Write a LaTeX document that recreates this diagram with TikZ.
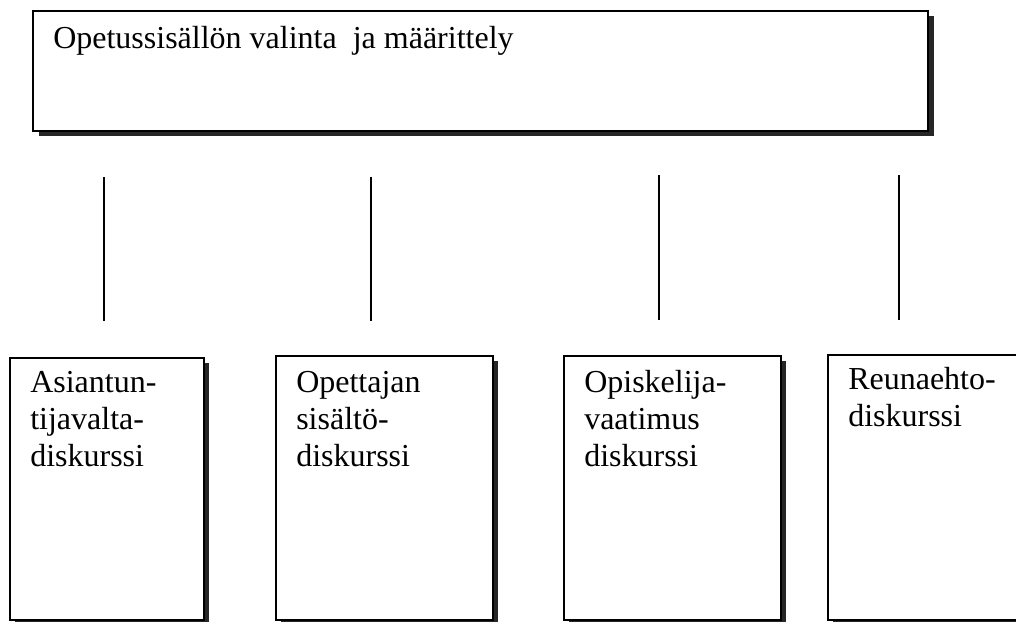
\documentclass[tikz,border=0pt]{standalone}
\usepackage{fontspec}
\setmainfont{Liberation Serif}
\usetikzlibrary{shadows}
\begin{document}
\begin{tikzpicture}[x=0.75pt,y=-0.75pt,
  boxstyle/.style={draw=black, line width=1.3pt, fill=white, anchor=north west, inner sep=0pt},
  topshadow/.style={drop shadow={shadow xshift=4.5pt, shadow yshift=-4pt, fill=black!85, opacity=1}},
  lowshadow/.style={drop shadow={shadow xshift=4pt, shadow yshift=-4pt, fill=black!85, opacity=1}},
  txt/.style={anchor=base west, inner sep=0pt, align=left, font=\fontsize{24}{27.75}\selectfont},
  link/.style={draw=black, line width=1.4pt}]
\useasboundingbox (0,0) rectangle (1016,621);
\clip (0,0) rectangle (1016,621);
% top box
\node[boxstyle, topshadow, minimum width=895*0.75pt, minimum height=120*0.75pt] (top) at (32,10) {};
\node[txt] (title) at (53,48) {Opetussisällön valinta\ \ ja määrittely};
% lower boxes
\node[boxstyle, lowshadow, minimum width=194*0.75pt, minimum height=262*0.75pt] (b1) at (9,357) {};
\node[boxstyle, lowshadow, minimum width=217*0.75pt, minimum height=264*0.75pt] (b2) at (275,355) {};
\node[boxstyle, lowshadow, minimum width=217*0.75pt, minimum height=264*0.75pt] (b3) at (563,355) {};
\node[boxstyle, lowshadow, minimum width=205*0.75pt, minimum height=265*0.75pt] (b4) at (827,354) {};
% text nodes: anchor is the baseline of the last line
\node[txt] (t1) at (30,466) {Asiantun-\\tijavalta-\\diskurssi};
\node[txt] (t2) at (296,466) {Opettajan\\sisältö-\\diskurssi};
\node[txt] (t3) at (584,466) {Opiskelija-\\vaatimus\\diskurssi};
\node[txt] (t4) at (848,426) {Reunaehto-\\diskurssi};
% vertical lines
\coordinate (l1a) at (104,177); \coordinate (l1b) at (104,321);
\coordinate (l2a) at (371,177); \coordinate (l2b) at (371,321);
\coordinate (l3a) at (659,175); \coordinate (l3b) at (659,320);
\coordinate (l4a) at (899,175); \coordinate (l4b) at (899,320);
\draw[link] (l1a) -- (l1b);
\draw[link] (l2a) -- (l2b);
\draw[link] (l3a) -- (l3b);
\draw[link] (l4a) -- (l4b);
\end{tikzpicture}
\end{document}
